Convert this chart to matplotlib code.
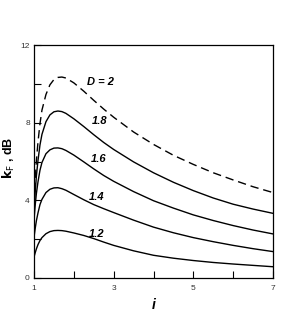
import numpy as np
import matplotlib
matplotlib.use("Agg")
import matplotlib.pyplot as plt

plt.rcParams['font.family'] = ['Liberation Sans', 'DejaVu Sans']

# -------------------------------------------------------------------
# data
# -------------------------------------------------------------------
i_vals = [1.0, 1.03, 1.06, 1.1, 1.15, 1.2, 1.3, 1.4, 1.5, 1.6, 1.7, 1.8, 2.0,
          2.25, 2.5, 2.75, 3.0, 3.5, 4.0, 4.5, 5.0, 5.5, 6.0, 6.5, 7.0]

k_12 = [1.08, 1.30, 1.50, 1.72, 1.93, 2.08, 2.28, 2.39, 2.44, 2.45, 2.44, 2.41, 2.32,
        2.19, 2.03, 1.85, 1.68, 1.40, 1.17, 1.02, 0.90, 0.80, 0.72, 0.65, 0.58]
k_14 = [2.10, 2.55, 2.95, 3.35, 3.78, 4.05, 4.40, 4.57, 4.64, 4.65, 4.60, 4.52, 4.30,
        4.03, 3.78, 3.57, 3.37, 2.98, 2.62, 2.33, 2.08, 1.87, 1.68, 1.51, 1.36]
k_16 = [3.00, 3.75, 4.35, 4.95, 5.55, 5.95, 6.40, 6.60, 6.69, 6.70, 6.66, 6.57, 6.33,
        5.98, 5.62, 5.28, 4.98, 4.45, 3.98, 3.60, 3.25, 2.96, 2.70, 2.47, 2.27]
k_18 = [3.40, 4.40, 5.25, 6.05, 6.85, 7.40, 8.05, 8.40, 8.56, 8.60, 8.57, 8.48, 8.20,
        7.80, 7.38, 6.98, 6.62, 5.98, 5.42, 4.93, 4.50, 4.12, 3.80, 3.55, 3.33]
k_20 = [3.80, 5.00, 6.05, 7.00, 7.95, 8.65, 9.45, 9.95, 10.22, 10.33, 10.35, 10.30, 10.05,
        9.62, 9.15, 8.70, 8.28, 7.52, 6.88, 6.32, 5.85, 5.42, 5.05, 4.70, 4.40]

solid_curves = [k_12, k_14, k_16, k_18]
curve_labels = ["1.2", "1.4", "1.6", "1.8", "D = 2"]
label_x = [2.58, 2.58, 2.61, 2.66, 2.66]
label_y = [2.27, 4.18, 6.13, 8.07, 10.10]

x_ticks = [1, 2, 3, 4, 5, 6, 7]
x_ticklabels = ["1", "", "3", "", "5", "", "7"]
y_ticks = [0, 2, 4, 6, 8, 10, 12]
y_ticklabels = ["0", "", "4", "", "8", "", "12"]

# -------------------------------------------------------------------
# plot
# -------------------------------------------------------------------
fig = plt.figure(figsize=(2.95, 3.12), dpi=100)
ax = fig.add_axes([34 / 295, 34 / 312, 239 / 295, 233 / 312])

for k in solid_curves:
    ax.plot(i_vals, k, color="black", lw=1.0, solid_joinstyle="round")
ax.plot(i_vals, k_20, color="black", lw=1.0, dashes=(6, 3.5))

for txt, lx, ly in zip(curve_labels, label_x, label_y):
    ax.text(lx, ly, txt, fontsize=8, fontweight="bold", fontstyle="italic",
            ha="center", va="center")

ax.set_xlim(1, 7)
ax.set_ylim(0, 12)
ax.set_xticks(x_ticks)
ax.set_xticklabels(x_ticklabels)
ax.set_yticks(y_ticks)
ax.set_yticklabels(y_ticklabels)
ax.tick_params(direction="in", length=5, width=0.8, labelsize=6,
               labelcolor="#333333")
ax.tick_params(axis="x", pad=5)
ax.tick_params(axis="y", pad=3)

for sp in ax.spines.values():
    sp.set_linewidth(0.9)

ax.set_xlabel("i", fontsize=10, fontweight="bold", fontstyle="italic")
ax.xaxis.set_label_coords(0.5, -0.085)
ax.set_ylabel(r"$\mathbf{k}_{\mathrm{F}}$ , dB", fontsize=9, fontweight="bold")
ax.yaxis.set_label_coords(-0.07, 0.515)

fig.savefig("out.png", dpi=100)
